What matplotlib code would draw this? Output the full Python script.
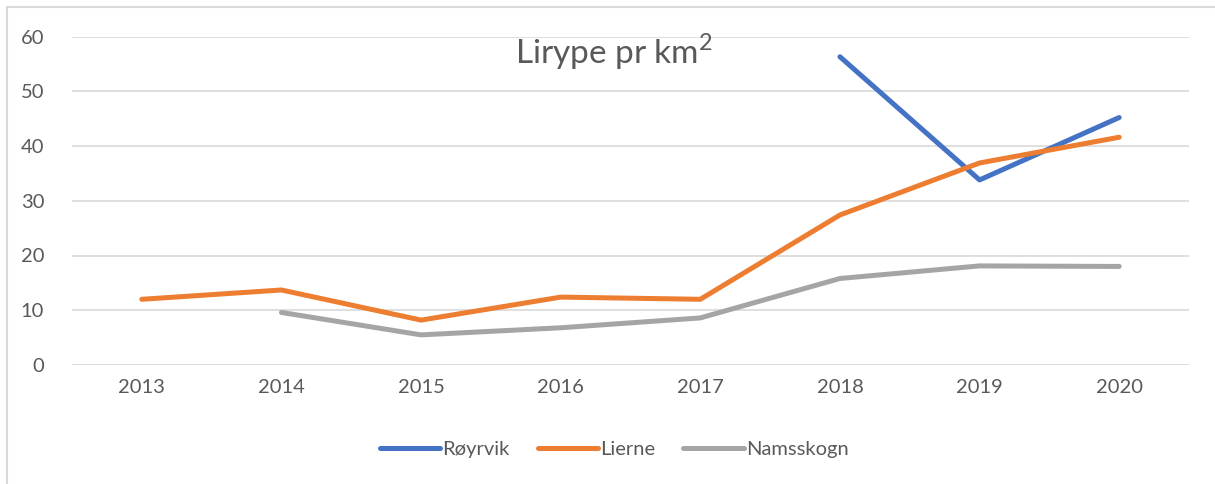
import matplotlib.pyplot as plt
from matplotlib.patches import Rectangle
import numpy as np

years = [2013, 2014, 2015, 2016, 2017, 2018, 2019, 2020]
royrvik = [np.nan, np.nan, np.nan, np.nan, np.nan, 56.3, 33.8, 45.2]
lierne = [12.0, 13.7, 8.2, 12.4, 12.0, 27.4, 36.9, 41.6]
namsskogn = [np.nan, 9.6, 5.5, 6.8, 8.6, 15.8, 18.1, 18.0]
yticks = [0, 10, 20, 30, 40, 50, 60]

plt.rcParams['font.family'] = ['Lato', 'DejaVu Sans']
txt = '#595959'

fig = plt.figure(figsize=(12.15, 4.84), dpi=100)
ax = fig.add_axes([72 / 1215, 1 - 365 / 484, (1189 - 72) / 1215, (365 - 36.5) / 484])

# chart area frame (only top/left edges visible in the crop)
fig.patches.append(Rectangle((7 / 1215, -0.1), 1.2, 1 - 7 / 484 + 0.1, transform=fig.transFigure,
                             fill=False, edgecolor='#D9D9D9', linewidth=1.5))

ax.plot(years, royrvik, color='#4472C4', lw=3.6, solid_capstyle='round', label='Røyrvik')
ax.plot(years, lierne, color='#ED7D31', lw=3.6, solid_capstyle='round', label='Lierne')
ax.plot(years, namsskogn, color='#A5A5A5', lw=3.6, solid_capstyle='round', label='Namsskogn')

ax.set_xlim(2012.5, 2020.5)
ax.set_ylim(0, 60)
ax.set_yticks(yticks)
ax.set_xticks(years)
ax.grid(axis='y', color='#D9D9D9', lw=1.2)
ax.set_axisbelow(True)
for s in ax.spines.values():
    s.set_visible(False)
ax.tick_params(length=0, labelsize=14.5, colors=txt, pad=10)
ax.tick_params(axis='y', pad=20)

fig.text(614 / 1215, 1 - 52 / 484, r'Lirype pr km$^{\mathregular{2}}$', ha='center', va='center',
         fontsize=24, color=txt)

ax.legend(loc='center', bbox_to_anchor=(614 / 1215, 1 - 449 / 484), bbox_transform=fig.transFigure,
          ncol=3, frameon=False, fontsize=14.5, labelcolor=txt, handlelength=3.0,
          handletextpad=0.1, columnspacing=1.4)

fig.savefig('out.png', dpi=100)
